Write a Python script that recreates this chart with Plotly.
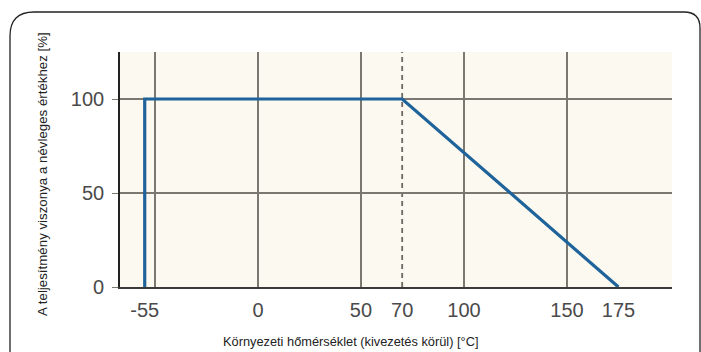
import plotly.graph_objects as go

# Data
temp_c = [-55, -55, 70, 175]
power_pct = [0, 100, 100, 0]
x_tick_vals = [-55, 0, 50, 70, 100, 150, 175]
x_tick_text = ["-55", "0", "50", "70", "100", "150", "175"]
x_grid_vals = [-50, 0, 50, 100, 150]
y_tick_vals = [0, 50, 100]
knee_temp = 70
x_range = [-67, 201]
y_range = [0, 125]

W, H = 701, 352
L, R, T, B = 120, 672, 52, 287

def px(xp):
    return (xp - L) / (R - L)

def py(yp):
    return (B - yp) / (B - T)

fig = go.Figure()
fig.add_trace(go.Scatter(x=temp_c, y=power_pct, mode="lines",
                         line=dict(color="#1f639b", width=3.2),
                         hoverinfo="skip", showlegend=False, cliponaxis=False))

fig.add_vline(x=knee_temp, line=dict(color="#6e6862", width=1.8, dash="5px,4px"), layer="below")

# rounded frame
r = 24
x0, y0, x1, y1 = 10, 12, 700, 360
path = (f"M {px(x0)},{py(y1)} L {px(x0)},{py(y0 + r)} "
        f"Q {px(x0)},{py(y0)} {px(x0 + r)},{py(y0)} "
        f"L {px(x1 - 16)},{py(y0)} Q {px(x1)},{py(y0)} {px(x1)},{py(y0 + 16)} "
        f"L {px(x1)},{py(y1)}")
fig.add_shape(type="path", path=path, xref="paper", yref="paper",
              line=dict(color="#222222", width=1.3))

tick_font = dict(family="Liberation Sans, Arial, sans-serif", size=20, color="#4a4a4a")
title_font = dict(family="Liberation Sans Narrow, Arial Narrow, Liberation Sans, sans-serif", size=12.8, color="#222222")
ytitle_font = dict(title_font, size=13.3)

fig.update_xaxes(range=x_range, tickmode="array", tickvals=x_tick_vals, ticktext=x_tick_text,
                 showgrid=False, ticks="", tickfont=tick_font, ticklabelstandoff=4,
                 showline=True, linecolor="#3a3a3a", linewidth=2, zeroline=False,
                 minor=dict(tickmode="array", tickvals=x_grid_vals, showgrid=True,
                            gridcolor="#7d7771", gridwidth=1.6, ticks=""))
fig.update_yaxes(range=y_range, tickmode="array", tickvals=y_tick_vals,
                 showgrid=True, gridcolor="#7d7771", gridwidth=1.6,
                 ticks="outside", ticklen=6, tickcolor="#7d7771", tickwidth=1.4,
                 tickfont=tick_font, ticklabelstandoff=4,
                 showline=True, linecolor="#222222", linewidth=1.6, zeroline=False)

fig.add_annotation(text="Környezeti hőmérséklet (kivezetés körül) [°C]",
                   x=px(350), y=py(341), xref="paper", yref="paper",
                   showarrow=False, font=title_font, xanchor="center", yanchor="middle")
fig.add_annotation(text="A teljesítmény viszonya a névleges értékhez [%]",
                   x=px(42), y=py(174), xref="paper", yref="paper", textangle=-90,
                   showarrow=False, font=ytitle_font, xanchor="center", yanchor="middle")

fig.update_layout(width=W, height=H, margin=dict(l=L, r=W - R, t=T, b=H - B),
                  plot_bgcolor="#fcf9f0", paper_bgcolor="#ffffff")

fig.write_html("out.html", config={"displayModeBar": False},
               post_script="document.body.style.margin='0px';document.body.style.overflow='hidden';")
